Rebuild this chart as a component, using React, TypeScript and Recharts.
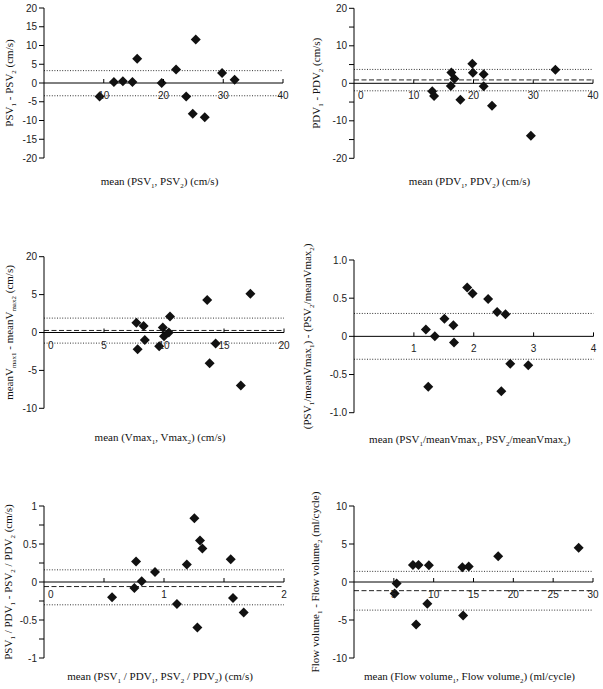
import React from "react";
import {
  ScatterChart,
  Scatter,
  XAxis,
  YAxis,
  ReferenceLine,
} from "recharts";

// panel A: PSV
const psvMean = [9.3, 11.7, 13.2, 14.8, 15.6, 19.7, 22.1, 23.8, 24.9, 25.4, 26.9, 29.8, 31.9];
const psvDiff = [-3.6, 0.3, 0.5, 0.3, 6.5, 0.0, 3.6, -3.6, -8.2, 11.6, -9.1, 2.7, 0.9];
const psvLimits = [3.3, -3.4];
const psvBias = 0;

// panel B: PDV
const pdvMean = [13.1, 13.4, 16.2, 16.3, 16.8, 17.8, 19.8, 19.9, 21.7, 21.7, 23.1, 29.6, 33.7];
const pdvDiff = [-2.1, -3.4, -0.7, 2.9, 1.2, -4.4, 5.2, 2.8, 2.4, -0.8, -6.0, -14.0, 3.6];
const pdvLimits = [3.7, -2.0];
const pdvBias = 0.9;

// panel C: mean Vmax
const vmaxMean = [7.7, 7.8, 8.3, 8.4, 9.6, 9.9, 10.0, 10.4, 10.5, 13.6, 13.8, 14.3, 16.4, 17.2];
const vmaxDiff = [1.3, -2.2, 0.85, -1.0, -1.8, 0.66, -0.5, 0.0, 2.1, 4.3, -4.05, -1.45, -7.0, 5.1];
const vmaxLimits = [1.9, -1.4];
const vmaxBias = 0.27;

// panel D: PSV / mean Vmax
const ratioMean = [1.2, 1.24, 1.35, 1.51, 1.66, 1.67, 1.89, 1.98, 2.24, 2.39, 2.46, 2.53, 2.61, 2.91];
const ratioDiff = [0.09, -0.66, 0.0, 0.23, 0.145, -0.08, 0.64, 0.56, 0.49, 0.32, -0.72, 0.29, -0.36, -0.38];
const ratioLimits = [0.3, -0.3];
const ratioBias = 0;

// panel E: PSV / PDV
const piMean = [0.567, 0.753, 0.767, 0.814, 0.925, 1.108, 1.19, 1.253, 1.278, 1.3, 1.32, 1.556, 1.575, 1.664];
const piDiff = [-0.2, -0.08, 0.27, 0.01, 0.13, -0.29, 0.23, 0.84, -0.6, 0.545, 0.44, 0.3, -0.21, -0.4];
const piLimits = [0.16, -0.3];
const piBias = -0.06;

// panel F: flow volume
const flowMean = [5.1, 5.35, 7.4, 7.8, 8.1, 9.2, 9.4, 13.6, 13.7, 14.4, 18.1, 28.2];
const flowDiff = [-1.5, -0.2, 2.25, -5.6, 2.25, -2.85, 2.2, 1.95, -4.4, 2.05, 3.4, 4.5];
const flowLimits = [1.4, -3.7];
const flowBias = -1.14;

// ticks
const ticks40 = [0, 10, 20, 30, 40];
const ticks40LabelsA = ["", "10", "20", "30", "40"];
const ticks40LabelsB = ["0", "10", "20", "30", "40"];
const ticks20 = [0, 5, 10, 15, 20];
const ticks20Labels = ["0", "5", "10", "15", "20"];
const ticks4 = [0, 1, 2, 3, 4];
const ticks4Labels = ["", "1", "2", "3", "4"];
const ticks2 = [0, 0.5, 1, 1.5, 2];
const ticks2Labels = ["0", "", "1", "", "2"];
const ticks30 = [0, 5, 10, 15, 20, 25, 30];
const ticks30Labels = ["", "5", "10", "15", "20", "25", "30"];

const yTicks20 = [-20, -15, -10, -5, 0, 5, 10, 15, 20];
const yLabels20A = ["-20", "-15", "-10", "-5", "0", "5", "10", "15", "20"];
const yLabels20B = ["-20", "", "-10", "", "0", "", "10", "", "20"];
const yTicks10 = [-10, -5, 0, 5, 10];
const yLabels10C = ["-10", "-5", "0", "5", "20"]; // "20" as printed in the figure
const yLabels10F = ["-10", "-5", "0", "5", "10"];
const yTicks1 = [-1, -0.5, 0, 0.5, 1];
const yLabels1D = ["-1.0", "-0.5", "0", "0.5", "1.0"];
const yTicksQ = [-1, -0.75, -0.5, -0.25, 0, 0.25, 0.5, 0.75, 1];
const yLabelsQ = ["-1", "", "-0.5", "", "0", "", "0.5", "", "1"];

const SANS = "Liberation Sans, Arial, sans-serif";
const SERIF = "Liberation Serif, Times New Roman, serif";

function splitSub(s: string) {
  const out: { t: string; sub: boolean }[] = [];
  const re = /_(\w+)/g;
  let last = 0;
  let m: RegExpExecArray | null;
  while ((m = re.exec(s))) {
    if (m.index > last) out.push({ t: s.slice(last, m.index), sub: false });
    out.push({ t: m[1], sub: true });
    last = re.lastIndex;
  }
  if (last < s.length) out.push({ t: s.slice(last), sub: false });
  return out;
}

const Title = ({ tx, ty, text, rotate }: any) => {
  const parts = splitSub(text);
  return (
    <text
      x={tx}
      y={ty}
      textAnchor="middle"
      fontFamily={SERIF}
      fontSize={11}
      fill="#111"
      style={{ whiteSpace: "pre" }}
      transform={rotate ? `rotate(-90 ${tx} ${ty})` : undefined}
    >
      {parts.map((p, i) => (
        <tspan
          key={i}
          fontSize={p.sub ? 7 : 11}
          dy={p.sub ? 3 : i > 0 && parts[i - 1].sub ? -3 : 0}
        >
          {p.t}
        </tspan>
      ))}
    </text>
  );
};

const Diamond = (props: any) => {
  const { cx, cy } = props;
  const r = 5;
  return (
    <polygon
      points={`${cx},${cy - r} ${cx + r},${cy} ${cx},${cy + r} ${cx - r},${cy}`}
      fill="#111"
    />
  );
};

type PanelCfg = {
  left: number;
  top: number;
  w: number;
  h: number;
  plotLeft: number;
  plotTop: number;
  plotW: number;
  plotH: number;
  xDomain: number[];
  xTicks: number[];
  xLabels: string[];
  yDomain: number[];
  yTicks: number[];
  yLabels: string[];
  xs: number[];
  ys: number[];
  limits: number[];
  bias: number;
  xTitle: string;
  yTitle: string;
  yTitleX: number;
  xTitleY: number;
};

const X_AXIS_H = 2;

function Panel({ c }: { c: PanelCfg }) {
  const yw = c.plotLeft - c.left;
  const mt = c.plotTop - c.top;
  const mr = c.w - yw - c.plotW;
  const mb = c.h - mt - c.plotH - X_AXIS_H;
  const [yMin, yMax] = c.yDomain;
  const y0 = mt + ((yMax - 0) / (yMax - yMin)) * c.plotH;
  const data = c.xs.map((x, i) => ({ x, y: c.ys[i] }));

  const renderXTick = (p: any) => {
    const v = p.payload.value;
    const idx = c.xTicks.indexOf(v);
    const label = idx >= 0 ? c.xLabels[idx] : "";
    const isMin = v === c.xDomain[0];
    return (
      <g>
        {!isMin && <line x1={p.x} x2={p.x} y1={y0} y2={y0 - 4} stroke="#000" />}
        <text
          x={isMin ? p.x + 4 : p.x}
          y={y0 + 16}
          textAnchor={isMin ? "start" : "middle"}
          fontFamily={SANS}
          fontSize={10}
          fill="#222"
        >
          {label}
        </text>
      </g>
    );
  };

  return (
    <div style={{ position: "absolute", left: c.left, top: c.top }}>
      <ScatterChart
        width={c.w}
        height={c.h}
        margin={{ top: mt, right: mr, bottom: mb, left: 0 }}
        style={{ overflow: "visible" }}
      >
        <XAxis
          type="number"
          dataKey="x"
          domain={c.xDomain}
          ticks={c.xTicks}
          interval={0}
          height={X_AXIS_H}
          axisLine={false}
          tickLine={false}
          tick={renderXTick}
          label={
            <Title
              tx={yw + c.plotW / 2 - 4}
              ty={mt + c.plotH + (c.xTitleY - (c.plotTop + c.plotH))}
              text={c.xTitle}
            />
          }
        />
        <YAxis
          type="number"
          dataKey="y"
          domain={c.yDomain}
          ticks={c.yTicks}
          interval={0}
          width={yw}
          tickSize={5}
          tickMargin={2}
          axisLine={{ stroke: "#000" }}
          tickLine={{ stroke: "#000" }}
          tick={{ fill: "#222", fontSize: 10, fontFamily: SANS }}
          tickFormatter={(v: number) => {
            const i = c.yTicks.indexOf(v);
            return i >= 0 ? c.yLabels[i] : "";
          }}
          label={
            <Title
              tx={c.yTitleX - c.left}
              ty={mt + c.plotH / 2}
              text={c.yTitle}
              rotate
            />
          }
        />
        <ReferenceLine y={c.limits[0]} stroke="#333" strokeDasharray="1 1.6" />
        <ReferenceLine y={c.limits[1]} stroke="#333" strokeDasharray="1 1.6" />
        {c.bias !== 0 && (
          <ReferenceLine y={c.bias} stroke="#222" strokeDasharray="5 2.5" />
        )}
        <ReferenceLine y={0} stroke="#000" />
        <Scatter data={data} shape={Diamond} isAnimationActive={false} />
      </ScatterChart>
    </div>
  );
}

const panels: PanelCfg[] = [
  {
    left: 0, top: 0, w: 300, h: 225,
    plotLeft: 44, plotTop: 8, plotW: 239, plotH: 150,
    xDomain: [0, 40], xTicks: ticks40, xLabels: ticks40LabelsA,
    yDomain: [-20, 20], yTicks: yTicks20, yLabels: yLabels20A,
    xs: psvMean, ys: psvDiff, limits: psvLimits, bias: psvBias,
    xTitle: "mean (PSV_1, PSV_2) (cm/s)",
    yTitle: "PSV_1 - PSV_2 (cm/s)",
    yTitleX: 13, xTitleY: 185,
  },
  {
    left: 300, top: 0, w: 303, h: 225,
    plotLeft: 354, plotTop: 8.3, plotW: 239, plotH: 150,
    xDomain: [0, 40], xTicks: ticks40, xLabels: ticks40LabelsB,
    yDomain: [-20, 20], yTicks: yTicks20, yLabels: yLabels20B,
    xs: pdvMean, ys: pdvDiff, limits: pdvLimits, bias: pdvBias,
    xTitle: "mean (PDV_1, PDV_2) (cm/s)",
    yTitle: "PDV_1 - PDV_2 (cm/s)",
    yTitleX: 320, xTitleY: 185,
  },
  {
    left: 0, top: 228, w: 300, h: 228,
    plotLeft: 44, plotTop: 256.7, plotW: 240, plotH: 151.6,
    xDomain: [0, 20], xTicks: ticks20, xLabels: ticks20Labels,
    yDomain: [-10, 10], yTicks: yTicks10, yLabels: yLabels10C,
    xs: vmaxMean, ys: vmaxDiff, limits: vmaxLimits, bias: vmaxBias,
    xTitle: "mean (Vmax_1, Vmax_2) (cm/s)",
    yTitle: "meanV_max1 - meanV_max2 (cm/s)",
    yTitleX: 13, xTitleY: 441,
  },
  {
    left: 300, top: 228, w: 303, h: 228,
    plotLeft: 354, plotTop: 260, plotW: 239.5, plotH: 152.7,
    xDomain: [0, 4], xTicks: ticks4, xLabels: ticks4Labels,
    yDomain: [-1, 1], yTicks: yTicks1, yLabels: yLabels1D,
    xs: ratioMean, ys: ratioDiff, limits: ratioLimits, bias: ratioBias,
    xTitle: "mean (PSV_1/meanVmax_1, PSV_2/meanVmax_2)",
    yTitle: "(PSV_1/meanVmax_1) - (PSV_2/meanVmax_2)",
    yTitleX: 311, xTitleY: 443,
  },
  {
    left: 0, top: 460, w: 300, h: 229,
    plotLeft: 44, plotTop: 506, plotW: 240, plotH: 152,
    xDomain: [0, 2], xTicks: ticks2, xLabels: ticks2Labels,
    yDomain: [-1, 1], yTicks: yTicksQ, yLabels: yLabelsQ,
    xs: piMean, ys: piDiff, limits: piLimits, bias: piBias,
    xTitle: "mean (PSV_1 / PDV_1, PSV_2 / PDV_2) (cm/s)",
    yTitle: "PSV_1 / PDV_1 - PSV_2 / PDV_2 (cm/s)",
    yTitleX: 12, xTitleY: 680,
  },
  {
    left: 300, top: 460, w: 303, h: 229,
    plotLeft: 354, plotTop: 506, plotW: 239, plotH: 152,
    xDomain: [0, 30], xTicks: ticks30, xLabels: ticks30Labels,
    yDomain: [-10, 10], yTicks: yTicks10, yLabels: yLabels10F,
    xs: flowMean, ys: flowDiff, limits: flowLimits, bias: flowBias,
    xTitle: "mean (Flow volume_1, Flow volume_2) (ml/cycle)",
    yTitle: "Flow volume_1 - Flow volume_2 (ml/cycle)",
    yTitleX: 319, xTitleY: 680,
  },
];

export default function App() {
  return (
    <div
      style={{
        position: "absolute",
        left: 0,
        top: 0,
        width: 603,
        height: 689,
        background: "#fff",
        overflow: "hidden",
      }}
    >
      {panels.map((c, i) => (
        <Panel key={i} c={c} />
      ))}
    </div>
  );
}
